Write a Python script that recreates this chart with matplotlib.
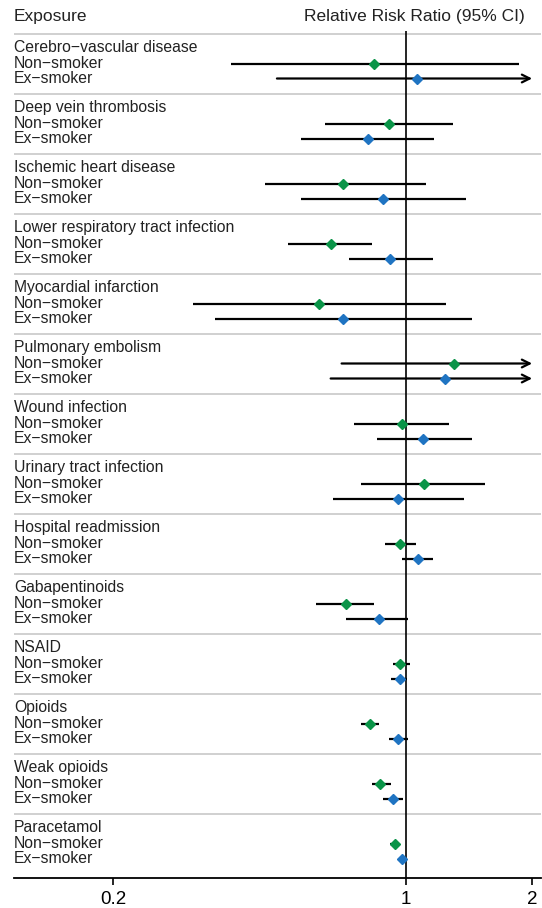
import numpy as np
import matplotlib
matplotlib.use("Agg")
import matplotlib.pyplot as plt

plt.rcParams['font.family'] = ['Liberation Sans', 'DejaVu Sans']

exposures = ["Cerebro\u2212vascular disease", "Deep vein thrombosis", "Ischemic heart disease",
             "Lower respiratory tract infection", "Myocardial infarction", "Pulmonary embolism",
             "Wound infection", "Urinary tract infection", "Hospital readmission",
             "Gabapentinoids", "NSAID", "Opioids", "Weak opioids", "Paracetamol"]
groups = ["Non\u2212smoker", "Ex\u2212smoker"]

# relative risk ratio and 95% CI, non-smoker then ex-smoker
non_rr = [0.839, 0.909, 0.708, 0.661, 0.621, 1.304, 0.980, 1.102, 0.968, 0.720, 0.969, 0.819, 0.868, 0.940]
non_lo = [0.382, 0.642, 0.462, 0.522, 0.311, 0.702, 0.751, 0.781, 0.891, 0.611, 0.931, 0.781, 0.831, 0.916]
non_hi = [1.861, 1.297, 1.116, 0.830, 1.248, 2.600, 1.266, 1.546, 1.058, 0.840, 1.020, 0.861, 0.919, 0.962]
ex_rr = [1.062, 0.812, 0.880, 0.917, 0.708, 1.239, 1.100, 0.958, 1.066, 0.861, 0.968, 0.957, 0.930, 0.980]
ex_lo = [0.492, 0.562, 0.562, 0.732, 0.351, 0.661, 0.853, 0.671, 0.980, 0.720, 0.921, 0.911, 0.880, 0.961]
ex_hi = [2.400, 1.168, 1.388, 1.158, 1.437, 2.300, 1.437, 1.378, 1.158, 1.009, 1.007, 1.009, 0.982, 0.996]

colors = ["#0a9448", "#1f74c2"]
xticks = [0.2, 1, 2]
xticklabels = ["0.2", "1", "2"]

W, H = 542, 908
fig = plt.figure(figsize=(W / 100, H / 100), dpi=100)
top_px, bot_px = 31, 878
ax = fig.add_axes([14 / W, (H - bot_px) / H, (541 - 14) / W, (bot_px - top_px) / H])

# y in "rows" of 15 px, row 0 = header separator
row = 15.0
ax.set_ylim((bot_px - 33.5) / row, (top_px - 33.5) / row)
ax.set_xscale('log')
ax.set_xlim(0.116, 2.10)
xclip = 2.0

ax.axvline(1, color='black', lw=1.2, zorder=2)

trans = ax.get_yaxis_transform()
for k, name in enumerate(exposures):
    y0 = 4 * k
    ax.axhline(y0, color='#c4c4c4', lw=1.1, zorder=1)
    ax.text(0, y0 + 0.95, name, transform=trans, fontsize=11.3, va='center', ha='left', color='#222222')
    rows = [(non_rr[k], non_lo[k], non_hi[k]), (ex_rr[k], ex_lo[k], ex_hi[k])]
    for j, (rr, lo, hi) in enumerate(rows):
        y = y0 + 2 + j
        ax.text(0, y, groups[j], transform=trans, fontsize=11.3, va='center', ha='left', color='#222222')
        if hi > xclip:
            ax.annotate("", xy=(xclip, y), xytext=(lo, y),
                        arrowprops=dict(arrowstyle='->', lw=1.6, color='black', mutation_scale=14,
                                        shrinkA=0, shrinkB=0), zorder=3)
        else:
            ax.plot([lo, hi], [y, y], color='black', lw=1.6, solid_capstyle='butt', zorder=3)
        ax.plot(rr, y, marker='D', ms=5.4, color=colors[j], mec=colors[j], zorder=4)

for s in ['top', 'left', 'right']:
    ax.spines[s].set_visible(False)
ax.spines['bottom'].set_linewidth(1.3)
ax.set_yticks([])
ax.set_xticks(xticks)
ax.set_xticklabels(xticklabels, fontsize=13.5)
ax.xaxis.set_minor_locator(matplotlib.ticker.NullLocator())
ax.tick_params(axis='x', length=5, width=1.2, pad=4)

fig.text(14 / W, 1 - 17 / H, "Exposure", fontsize=12.5, va='center', ha='left', color='#222222')
fig.text(414 / W, 1 - 17 / H, "Relative Risk Ratio (95% CI)", fontsize=12.5, va='center', ha='center',
         color='#222222')

fig.savefig("out.png", dpi=100)
